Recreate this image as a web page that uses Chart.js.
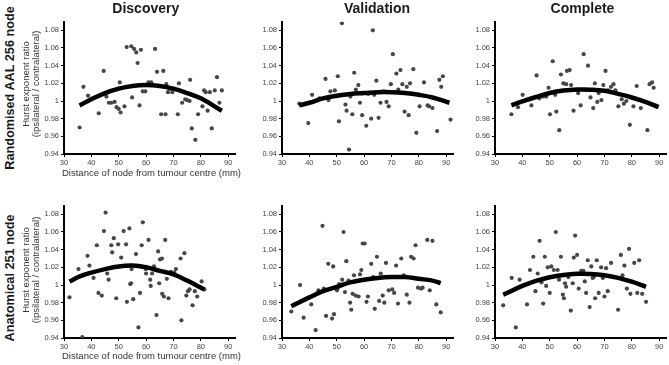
<!DOCTYPE html>
<html><head><meta charset="utf-8">
<script src="https://cdn.jsdelivr.net/npm/chart.js@4.4.0/dist/chart.umd.min.js"></script>
<style>
html,body{margin:0;padding:0;background:#fff;width:669px;height:365px;overflow:hidden;font-family:"Liberation Sans",Arial,sans-serif;}
.t{position:absolute;white-space:nowrap;color:#1a1a1a;z-index:5;}
.title{font-weight:bold;font-size:14px;transform:translate(-50%,-50%);}
.row{font-weight:bold;font-size:12.7px;transform:translate(-50%,-50%) rotate(-90deg);}
.yt{font-size:9.5px;line-height:9.5px;text-align:center;transform:translate(-50%,-50%) rotate(-90deg);color:#333;}
.xt{font-size:9.5px;transform:translate(-50%,-50%);color:#333;}
canvas{position:absolute;}
</style></head><body>
<script>
const xTicks = [30, 40, 50, 60, 70, 80, 90];
const yTicks = [0.94, 0.96, 0.98, 1, 1.02, 1.04, 1.06, 1.08];
const yTickLabels = ['0.94', '0.96', '0.98', '1', '1.02', '1.04', '1.06', '1.08'];
const columnTitles = ['Discovery', 'Validation', 'Complete'];
const rowLabels = ['Randomised AAL 256 node', 'Anatomical 251 node'];
const yAxisTitle = ['Hurst exponent ratio', '(ipsilateral / contralateral)'];
const xAxisTitle = 'Distance of node from tumour centre (mm)';

const aalDiscovery = [[35.7,0.970],[37.1,1.016],[38.8,1.006],[42.7,0.986],[44.5,1.034],[45.5,1.005],[46.4,0.998],[47.3,0.998],[48.5,0.999],[49.2,0.993],[50.0,0.991],[50.4,1.021],[50.7,0.987],[52.1,0.994],[52.9,1.061],[54.6,1.062],[54.9,1.004],[55.6,1.059],[56.4,1.055],[56.9,1.043],[57.6,0.995],[58.1,1.058],[58.8,1.011],[59.7,1.011],[60.9,1.021],[61.9,1.021],[63.3,1.059],[64.0,1.033],[65.5,0.985],[66.3,1.034],[67.1,0.985],[67.4,1.019],[68.0,1.010],[68.6,1.014],[69.6,1.010],[71.6,0.985],[72.0,1.020],[73.2,0.998],[74.3,1.002],[75.0,1.001],[75.9,1.000],[76.1,1.024],[76.7,0.969],[78.0,0.956],[79.0,0.985],[80.6,0.994],[81.2,1.012],[81.8,1.010],[82.5,0.989],[83.3,1.010],[84.0,0.969],[85.1,1.012],[85.9,1.027],[86.8,0.998],[87.7,1.012]];
const aalDiscoveryFit = [[35.7,0.995],[40,1.002],[45,1.009],[50,1.014],[55,1.017],[60,1.018],[65,1.017],[70,1.014],[75,1.009],[80,1.003],[87.7,0.989]];

const aalValidation = [[36.3,0.997],[39.6,0.975],[41.0,1.007],[43.7,1.003],[45.9,1.025],[47.0,1.001],[47.7,1.011],[49.3,1.012],[50.4,1.028],[50.8,0.977],[51.9,1.088],[53.2,0.996],[53.6,0.989],[54.5,0.945],[55.0,1.005],[55.7,0.985],[56.4,1.032],[57.0,1.013],[57.9,1.018],[58.5,0.998],[59.3,0.984],[60.8,0.972],[61.6,1.008],[62.6,0.980],[63.2,1.080],[63.7,1.007],[64.5,1.023],[65.3,0.981],[66.0,0.998],[67.1,1.011],[68.2,0.999],[69.0,0.994],[69.8,1.019],[70.5,1.053],[71.8,1.031],[72.5,1.013],[73.3,1.035],[74.0,1.019],[74.8,0.988],[75.6,1.016],[76.3,0.984],[76.8,1.020],[78.0,1.036],[79.1,0.964],[80.3,0.994],[81.9,1.021],[83.2,0.995],[83.8,0.994],[85.0,0.992],[86.7,0.966],[87.5,1.024],[88.2,1.016],[88.8,1.028],[91.6,0.979]];
const aalValidationFit = [[36.3,0.995],[40,0.998],[45,1.003],[50,1.006],[55,1.008],[60,1.009],[65,1.010],[70,1.010],[75,1.009],[80,1.007],[85,1.004],[91.2,0.998]];

const aalComplete = [[36.0,0.985],[38.4,0.993],[40.1,1.007],[43.3,0.995],[45.2,1.029],[46.2,1.003],[47.6,1.005],[48.7,1.005],[49.6,1.015],[50.1,0.985],[51.1,1.045],[52.0,1.007],[52.4,0.988],[53.5,0.967],[54.1,1.030],[55.0,1.020],[56.0,1.019],[56.3,1.034],[57.3,1.035],[57.8,1.018],[58.7,0.989],[59.9,1.012],[60.4,1.009],[61.3,0.995],[62.4,1.053],[63.0,1.013],[64.0,1.040],[64.9,1.004],[65.9,0.992],[66.5,1.020],[67.4,0.999],[67.9,1.009],[68.9,1.001],[69.6,1.018],[70.4,1.034],[71.3,1.012],[72.4,1.016],[73.3,1.019],[74.0,1.012],[75.1,0.994],[76.3,1.002],[77.1,0.997],[78.0,1.000],[79.3,0.973],[80.6,0.994],[81.8,1.017],[83.3,0.992],[85.7,0.967],[86.5,1.019],[87.4,1.021],[88.0,1.015]];
const aalCompleteFit = [[36,0.995],[40,0.9995],[45,1.0045],[50,1.009],[55,1.0118],[60,1.013],[65,1.0128],[70,1.0115],[75,1.008],[80,1.004],[85,0.999],[89.8,0.993]];

const anaDiscovery = [[32.0,0.986],[35.3,1.018],[36.7,0.941],[38.6,1.033],[39.3,1.022],[40.8,1.008],[42.0,1.045],[42.6,0.991],[43.8,0.988],[44.6,1.061],[45.2,1.082],[45.8,1.013],[46.3,1.006],[47.3,1.045],[47.6,1.037],[48.2,1.053],[49.1,0.985],[49.8,1.046],[50.9,1.031],[51.8,1.061],[52.7,1.046],[53.0,0.981],[53.9,1.064],[54.2,1.001],[54.5,1.002],[54.7,1.018],[55.3,0.984],[56.3,1.035],[57.2,0.952],[57.8,0.991],[58.4,1.045],[58.8,1.071],[59.9,1.018],[60.0,1.013],[60.9,1.051],[61.5,1.006],[61.7,0.999],[62.2,1.013],[62.9,1.021],[63.8,0.966],[64.4,1.038],[64.8,1.002],[65.1,1.029],[65.8,1.030],[65.9,0.990],[66.5,0.987],[67.0,1.051],[67.6,1.007],[68.2,0.985],[69.1,1.015],[70.3,1.014],[70.9,1.018],[72.6,1.030],[72.9,0.960],[74.0,1.036],[74.7,0.988],[75.3,0.993],[75.9,0.995],[77.0,0.977],[77.8,0.993],[78.7,0.987],[80.3,1.004],[81.3,0.995]];
const anaDiscoveryFit = [[32,1.004],[36,1.010],[40,1.014],[45,1.018],[50,1.021],[55,1.022],[60,1.020],[65,1.016],[70,1.012],[75,1.005],[81.3,0.995]];

const anaValidation = [[33.4,0.970],[36.6,1.000],[37.9,0.963],[40.7,0.978],[42.3,0.949],[43.3,0.994],[44.8,1.067],[45.3,0.996],[46.1,0.965],[46.9,1.024],[48.3,0.962],[48.7,1.021],[49.0,0.967],[50.1,0.994],[50.3,0.996],[50.9,1.001],[52.0,1.006],[52.5,1.060],[53.0,0.992],[53.5,1.027],[54.3,1.005],[54.9,0.980],[55.3,0.972],[55.8,0.990],[56.3,1.011],[56.9,0.988],[58.0,0.987],[58.5,1.012],[59.0,1.017],[59.5,1.047],[60.2,1.047],[60.9,0.981],[61.4,0.987],[62.6,1.024],[63.3,1.009],[63.9,0.973],[64.7,1.032],[65.5,0.982],[66.1,1.013],[66.8,0.988],[67.4,0.980],[68.0,1.025],[69.0,0.994],[70.3,0.995],[71.0,0.991],[71.7,1.022],[72.4,0.979],[73.6,1.030],[74.5,1.011],[75.6,0.989],[76.6,0.980],[77.2,1.032],[78.1,1.030],[78.8,1.045],[79.7,0.997],[80.8,0.996],[81.4,0.997],[83.1,1.051],[84.0,0.994],[85.0,1.050],[86.4,0.978],[88.0,0.969]];
const anaValidationFit = [[33.4,0.976],[40,0.986],[45,0.993],[50,0.998],[55,1.003],[60,1.006],[65,1.008],[70,1.009],[75,1.009],[80,1.007],[85,1.005],[88,1.002]];

const anaComplete = [[33.0,0.977],[36.1,1.008],[37.6,0.952],[39.0,1.006],[41.7,0.978],[42.8,1.017],[44.0,1.032],[44.8,0.993],[45.6,1.013],[46.3,1.050],[47.0,1.003],[47.6,0.979],[48.2,1.032],[48.7,0.999],[49.3,1.020],[50.0,0.991],[50.6,1.021],[51.5,1.017],[52.2,1.060],[52.9,1.017],[53.4,1.006],[54.1,1.032],[54.8,0.989],[55.2,0.985],[55.6,1.002],[56.0,0.998],[56.8,1.009],[57.7,0.971],[58.4,1.002],[58.8,1.031],[59.3,1.056],[60.0,1.034],[60.6,0.996],[61.5,1.016],[62.3,1.016],[62.8,1.004],[63.3,0.991],[63.9,1.028],[64.6,0.975],[65.2,1.021],[65.7,1.008],[66.1,1.009],[66.6,0.985],[67.2,1.028],[67.9,0.991],[68.8,1.020],[69.4,1.008],[70.0,0.987],[70.6,1.019],[71.2,0.993],[72.4,1.025],[75.0,0.972],[76.0,1.034],[76.6,1.011],[77.3,1.022],[78.2,0.996],[79.0,1.041],[79.5,0.990],[80.9,1.025],[82.0,0.991],[82.7,1.028],[83.8,0.990],[85.2,0.981]];
const anaCompleteFit = [[33,0.989],[40,0.999],[45,1.0047],[50,1.0088],[55,1.0114],[60,1.0127],[65,1.0125],[70,1.011],[75,1.0081],[80,1.0037],[85.2,0.998]];

const panels = [
  [aalDiscovery, aalDiscoveryFit], [aalValidation, aalValidationFit], [aalComplete, aalCompleteFit],
  [anaDiscovery, anaDiscoveryFit], [anaValidation, anaValidationFit], [anaComplete, anaCompleteFit]
];

const colCanvasLeft = [24, 242, 455];
const rowCanvasTop = [15, 199];
const FONT = "'Liberation Sans', Arial, sans-serif";

function addText(cls, txt, x, y) {
  const d = document.createElement('div');
  d.className = 't ' + cls;
  d.style.left = x + 'px'; d.style.top = y + 'px';
  if (Array.isArray(txt)) { d.innerHTML = txt.map(s => s.replace(/&/g,'&amp;')).join('<br>'); }
  else d.textContent = txt;
  document.body.appendChild(d);
}

function makePanel(pts, fit, left, top) {
  const cv = document.createElement('canvas');
  cv.width = 217; cv.height = 159;
  cv.style.left = left + 'px'; cv.style.top = top + 'px';
  cv.style.width = '217px'; cv.style.height = '159px';
  document.body.appendChild(cv);
  new Chart(cv, {
    type: 'scatter',
    data: { datasets: [
      { type: 'line', data: fit.map(p => ({x: p[0], y: p[1]})), borderColor: '#000', borderWidth: 4.5,
        pointRadius: 0, tension: 0.4, fill: false, order: 0 },
      { data: pts.map(p => ({x: p[0], y: p[1]})), backgroundColor: '#474747', borderWidth: 0,
        pointRadius: 2.1, order: 1 }
    ]},
    options: {
      responsive: false, animation: false, devicePixelRatio: 1,
      layout: { padding: { left: 0, top: 5, right: 6, bottom: 0 } },
      plugins: { legend: { display: false }, tooltip: { enabled: false } },
      scales: {
        x: {
          type: 'linear', min: 30, max: 92.5,
          afterBuildTicks(s) { s.ticks = xTicks.map(v => ({ value: v })); },
          afterFit(s) { s.height = 20; },
          grid: { display: true, drawOnChartArea: false, drawTicks: true, tickLength: 3, color: '#000', lineWidth: 1 },
          border: { display: true, color: '#000', width: 2 },
          ticks: { font: { size: 7.5, family: FONT }, color: '#444', padding: 1, maxRotation: 0,
                   callback: v => String(v) }
        },
        y: {
          type: 'linear', min: 0.94, max: 1.09,
          afterBuildTicks(s) { s.ticks = yTicks.map(v => ({ value: v })); },
          afterFit(s) { s.width = 40; },
          grid: { display: true, drawOnChartArea: false, drawTicks: true, tickLength: 3, color: '#000', lineWidth: 1 },
          border: { display: true, color: '#000', width: 2 },
          ticks: { font: { size: 7.5, family: FONT }, color: '#444', padding: 2,
                   callback: v => { let bi = 0; yTicks.forEach((t, i) => { if (Math.abs(t - v) < Math.abs(yTicks[bi] - v)) bi = i; }); return yTickLabels[bi]; } }
        }
      }
    }
  });
}

panels.forEach((p, i) => {
  const r = Math.floor(i / 3), c = i % 3;
  makePanel(p[0], p[1], colCanvasLeft[c], rowCanvasTop[r]);
});

const titleX = [145.8, 377, 582.5];
columnTitles.forEach((t, i) => addText('title', t, titleX[i], 8));
addText('row', rowLabels[0], 10, 88);
addText('row', rowLabels[1], 10, 278);
addText('yt', yAxisTitle, 29.5, 84);
addText('yt', yAxisTitle, 29.5, 270);
addText('xt', xAxisTitle, 151.5, 171.7);
addText('xt', xAxisTitle, 151.5, 355);
</script>
</body></html>
